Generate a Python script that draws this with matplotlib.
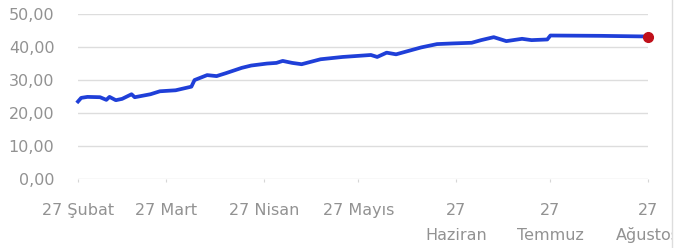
import numpy as np
import pandas as pd
import matplotlib
matplotlib.use("Agg")
import matplotlib.pyplot as plt
from matplotlib.patches import Rectangle
from matplotlib.lines import Line2D

dates = ["2023-02-27", "2023-02-28", "2023-03-02", "2023-03-06", "2023-03-08",
         "2023-03-09", "2023-03-11", "2023-03-13", "2023-03-16", "2023-03-17",
         "2023-03-22", "2023-03-25", "2023-03-30", "2023-04-04", "2023-04-05",
         "2023-04-09", "2023-04-12", "2023-04-15", "2023-04-20", "2023-04-23",
         "2023-04-28", "2023-05-01", "2023-05-03", "2023-05-06", "2023-05-09",
         "2023-05-15", "2023-05-22", "2023-05-31", "2023-06-02", "2023-06-05",
         "2023-06-08", "2023-06-16", "2023-06-21", "2023-06-26", "2023-07-02",
         "2023-07-05", "2023-07-09", "2023-07-13", "2023-07-18", "2023-07-21",
         "2023-07-26", "2023-07-27", "2023-08-12", "2023-08-27"]
values = [23.5, 24.6, 24.9, 24.8, 24.0,
          24.9, 23.9, 24.3, 25.7, 24.8,
          25.7, 26.6, 26.9, 28.0, 30.0,
          31.5, 31.2, 32.1, 33.7, 34.4,
          35.0, 35.2, 35.8, 35.2, 34.8,
          36.3, 37.0, 37.6, 37.0, 38.3,
          37.8, 39.9, 40.9, 41.1, 41.3,
          42.1, 43.0, 41.8, 42.5, 42.1,
          42.3, 43.5, 43.4, 43.2]

tick_dates = ["2023-02-27", "2023-03-27", "2023-04-27", "2023-05-27",
              "2023-06-27", "2023-07-27", "2023-08-27"]
tick_labels = ["27 Şubat", "27 Mart", "27 Nisan", "27 Mayıs",
               "27\nHaziran", "27\nTemmuz", "27\nAğustos"]
y_ticks = [0, 10, 20, 30, 40, 50]

x = pd.to_datetime(dates)
ticks = pd.to_datetime(tick_dates)

plt.rcParams['font.family'] = ['DejaVu Sans']
label_color = "#929292"

fig = plt.figure(figsize=(6.99, 2.48), dpi=100)
ax = fig.add_axes([0.1116, 0.278, 0.8155, 0.6653])

ax.plot(x, values, color="#1f3fd8", linewidth=2.7, clip_on=False, zorder=3)
ax.plot(x[-1:], values[-1:], 'o', color="#c0101a", markersize=7, clip_on=False, zorder=4)

ax.set_xlim(ticks[0], ticks[-1])
ax.set_ylim(0, 50)
ax.set_yticks(y_ticks)
ax.set_yticklabels(["%d,00" % v for v in y_ticks])

# first line goes on the tick, the wrapped month name goes underneath
ax.set_xticks(ticks)
ax.set_xticklabels([t.split("\n")[0] for t in tick_labels])
for t, lab in zip(ticks, tick_labels):
    parts = lab.split("\n")
    if len(parts) > 1:
        ax.text(t, -0.34, parts[1], transform=ax.get_xaxis_transform(),
                ha='center', va='center', fontsize=11.5, color=label_color)

for s in ax.spines.values():
    s.set_visible(False)
ax.grid(axis='y', color="#dddddd", linewidth=1)
ax.tick_params(axis='y', length=0, pad=17, labelsize=11.5, labelcolor=label_color)
ax.tick_params(axis='x', length=2.5, color="#d6d6d6", pad=14.5, labelsize=11.5,
               labelcolor=label_color)

# right frame edge that clips the last label
fig.add_artist(Rectangle((672 / 699, 0), 1, 1, transform=fig.transFigure,
                         facecolor="white", edgecolor="none", zorder=10))
fig.add_artist(Line2D([672 / 699, 672 / 699], [0, 1], transform=fig.transFigure,
                      color="#dddddd", linewidth=1, zorder=11))

fig.savefig("out.png", dpi=100)
